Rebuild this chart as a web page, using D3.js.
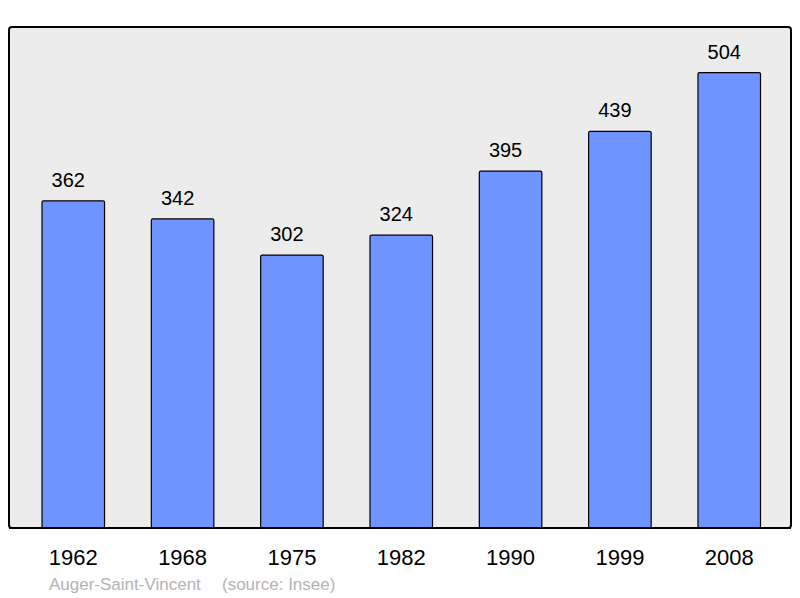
<!DOCTYPE html>
<html><head><meta charset="utf-8">
<script src="https://cdn.jsdelivr.net/npm/d3@7"></script>
<style>body{margin:0;background:#fff}svg{display:block}</style>
</head><body>
<script>
const years = ["1962","1968","1975","1982","1990","1999","2008"];
const population = [362, 342, 302, 324, 395, 439, 504];
const place = "Auger-Saint-Vincent";
const source = "(source: Insee)";

const W = 800, H = 598;
const plot = {x0: 9, y0: 27, x1: 791, y1: 528};
const svg = d3.select("body").append("svg").attr("width", W).attr("height", H);

svg.append("rect").attr("x", plot.x0).attr("y", plot.y0)
  .attr("width", plot.x1 - plot.x0).attr("height", plot.y1 - plot.y0)
  .attr("rx", 3).attr("fill", "#ececec").attr("stroke", "#000").attr("stroke-width", 2);

const x = d3.scaleBand().domain(years).range([42, 760.5]).paddingInner(0.428).paddingOuter(0);
const y = d3.scaleLinear().domain([0, d3.max(population) * 1.1]).range([plot.y1, plot.y0]);

const data = years.map((yr, i) => ({year: yr, v: population[i]}));

svg.selectAll("rect.bar").data(data).enter().append("rect")
  .attr("class", "bar")
  .attr("x", d => x(d.year)).attr("y", d => y(d.v))
  .attr("width", x.bandwidth()).attr("height", d => y(0) - y(d.v))
  .attr("rx", 1.5)
  .attr("fill", "#7094ff").attr("stroke", "#000").attr("stroke-width", 1.2);

svg.selectAll("text.val").data(data).enter().append("text")
  .attr("x", d => x(d.year) + x.bandwidth() / 2 - 5).attr("y", d => y(d.v) - 14)
  .attr("text-anchor", "middle").attr("font-family", "Liberation Sans, Arial, sans-serif")
  .attr("font-size", 20).attr("fill", "#000").text(d => d.v);

svg.append("line").attr("x1", plot.x0).attr("x2", plot.x1).attr("y1", plot.y1).attr("y2", plot.y1)
  .attr("stroke", "#000").attr("stroke-width", 2);

const xAxis = d3.axisBottom(x).tickSize(0).tickPadding(0);
const gx = svg.append("g").attr("transform", `translate(0,${plot.y1})`).call(xAxis);
gx.select(".domain").remove();
gx.selectAll("text").attr("font-family", "Liberation Sans, Arial, sans-serif")
  .attr("font-size", 22).attr("fill", "#000").attr("dy", null).attr("y", 37);

svg.append("text").attr("x", 49).attr("y", 590)
  .attr("font-family", "Liberation Sans, Arial, sans-serif").attr("font-size", 17)
  .attr("fill", "#b3b3b3").text(place);
svg.append("text").attr("x", 222).attr("y", 590)
  .attr("font-family", "Liberation Sans, Arial, sans-serif").attr("font-size", 17)
  .attr("fill", "#b3b3b3").text(source);
</script>
</body></html>
